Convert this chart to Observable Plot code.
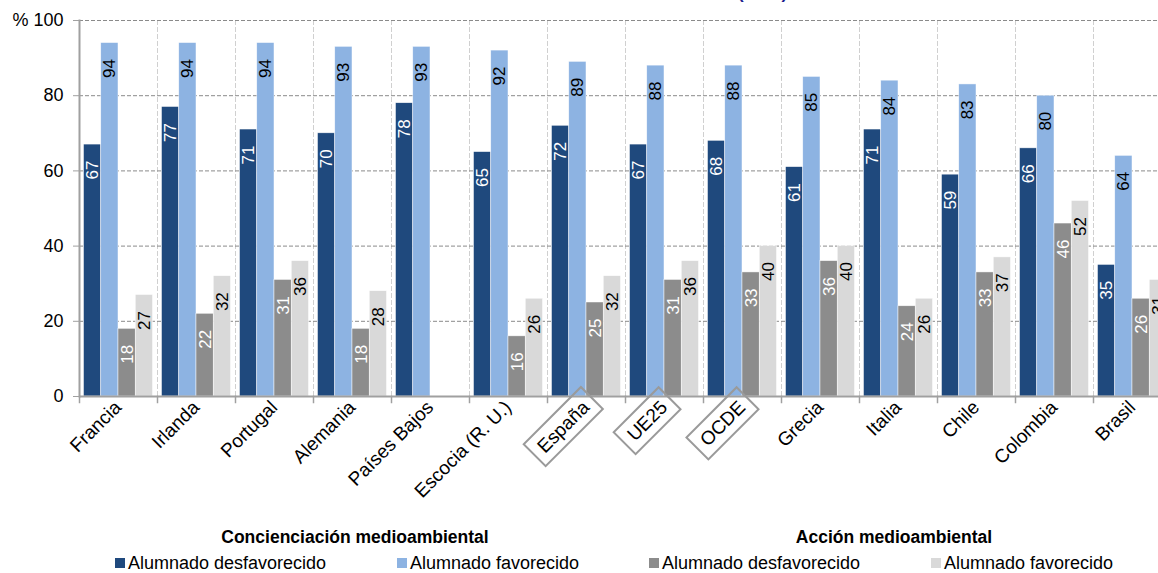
<!DOCTYPE html>
<html>
<head>
<meta charset="utf-8">
<script src="https://cdn.jsdelivr.net/npm/d3@7"></script>
<script src="https://cdn.jsdelivr.net/npm/@observablehq/plot@0.6"></script>
<style>
html, body { margin: 0; padding: 0; background: #fff; overflow: hidden; width: 1158px; height: 573px; }
body { font-family: "Liberation Sans", Arial, sans-serif; position: relative; color: #000; }
#chart { position: absolute; left: 0; top: 0; width: 1158px; }
#title { position: absolute; left: 738px; top: -15px; font-size: 17px; line-height: 17px; font-weight: bold; color: #1c1c8c; white-space: nowrap; }
.lt { position: absolute; font-weight: bold; font-size: 17.5px; line-height: 20px; transform: translateX(-50%); white-space: nowrap; }
.li { position: absolute; font-size: 18px; line-height: 20px; white-space: nowrap; display: flex; align-items: center; }
.sw { width: 10px; height: 10px; margin-right: 3px; display: inline-block; }
</style>
</head>
<body>
<div id="title">(2006)</div>
<div id="chart"></div>
<div id="legend"></div>
<script>
// ---- data ----
const countries = ["Francia", "Irlanda", "Portugal", "Alemania", "Países Bajos", "Escocia (R. U.)", "España", "UE25", "OCDE", "Grecia", "Italia", "Chile", "Colombia", "Brasil"];
const boxedCountries = ["España", "UE25", "OCDE"];
const awarenessDisadv = [67, 77, 71, 70, 78, 65, 72, 67, 68, 61, 71, 59, 66, 35];
const awarenessAdv    = [94, 94, 94, 93, 93, 92, 89, 88, 88, 85, 84, 83, 80, 64];
const actionDisadv    = [18, 22, 31, 18, null, 16, 25, 31, 33, 36, 24, 33, 46, 26];
const actionAdv       = [27, 32, 36, 28, null, 26, 32, 36, 40, 40, 26, 37, 52, 31];
const seriesKeys = ["aw_dis", "aw_adv", "ac_dis", "ac_adv"];
const seriesColors = ["#1f497d", "#8db3e2", "#8c8c8c", "#d9d9d9"];
const labelColors = ["#ffffff", "#000000", "#ffffff", "#000000"];
const legendNames = ["Alumnado desfavorecido", "Alumnado favorecido", "Alumnado desfavorecido", "Alumnado favorecido"];
const groupTitles = ["Concienciación medioambiental", "Acción medioambiental"];
const yTicks = [0, 20, 40, 60, 80, 100];

// ---- table ----
const seriesValues = [awarenessDisadv, awarenessAdv, actionDisadv, actionAdv];
const rows = [];
countries.forEach((c, i) => seriesKeys.forEach((s, j) => {
  const v = seriesValues[j][i];
  if (v != null) rows.push({country: c, series: s, value: v, labelColor: labelColors[j]});
}));

const W = 1158, H = 505, mL = 79, mR = -13, mT = 20, mB = 109;
const frameH = H - mT - mB;

const plot = Plot.plot({
  width: W, height: H,
  marginLeft: mL, marginRight: mR, marginTop: mT, marginBottom: mB,
  style: {fontFamily: "Liberation Sans, Arial, sans-serif", fontSize: "17px", color: "#000", background: "transparent", maxWidth: "none"},
  fx: {domain: countries, padding: 0, axis: null, round: false, label: null},
  x: {domain: seriesKeys, paddingInner: 0, paddingOuter: 0.26, axis: null, round: false},
  y: {domain: [0, 100], axis: null, label: null},
  color: {domain: seriesKeys, range: seriesColors},
  marks: [
    Plot.frame({anchor: "left", stroke: "#d0d0d0", strokeDasharray: "4,3"}),
    Plot.gridY(yTicks.filter(t => t > 0), {stroke: "#8a8a8a", strokeOpacity: 1, strokeDasharray: "4,2"}),
    Plot.barY(rows, {fx: "country", x: "series", y: "value", fill: "series", stroke: "#ffffff", strokeWidth: 0.6, strokeOpacity: 0.8}),
    Plot.text(rows.filter(d => d.labelColor === "#ffffff"), {fx: "country", x: "series", y: "value", text: d => String(d.value), rotate: -90, textAnchor: "end", dy: 16, fill: "#ffffff", fontSize: 17}),
    Plot.text(rows.filter(d => d.labelColor === "#000000"), {fx: "country", x: "series", y: "value", text: d => String(d.value), rotate: -90, textAnchor: "end", dy: 16, fill: "#000000", fontSize: 17}),
    Plot.ruleY([0], {stroke: "#a0a0a0", strokeWidth: 2}),
    Plot.frame({anchor: "left", stroke: "#a0a0a0", strokeWidth: 2, facetAnchor: "left"}),
    Plot.frame({anchor: "left", stroke: "#a0a0a0", strokeWidth: 1.5, insetTop: frameH, insetBottom: -6}),
    Plot.axisY({ticks: yTicks, tickSize: 6, text: null, stroke: "#a0a0a0", label: null}),
    Plot.axisY({ticks: yTicks, tickSize: 0, tickPadding: 16, tickFormat: d => d === 100 ? "% 100" : String(d), fontSize: 18, label: null}),
    Plot.text(countries, {fx: d => d, text: d => d, frameAnchor: "bottom", rotate: -45, textAnchor: "end", dy: 12, dx: 4, fontSize: 19, fill: "#000"})
  ]
});
document.getElementById("chart").append(plot);

// boxes around benchmark labels
d3.select(plot).selectAll("text")
  .filter(function () { return boxedCountries.includes(this.textContent); })
  .each(function () {
    const b = this.getBBox();
    const padX = 8, padY = 5;
    const r = document.createElementNS("http://www.w3.org/2000/svg", "rect");
    const tr = this.getAttribute("transform");
    if (tr) r.setAttribute("transform", tr);
    r.setAttribute("x", b.x - padX);
    r.setAttribute("y", b.y - padY);
    r.setAttribute("width", b.width + 2 * padX);
    r.setAttribute("height", b.height + 2 * padY);
    r.setAttribute("fill", "none");
    r.setAttribute("stroke", "#9a9a9a");
    r.setAttribute("stroke-width", "2");
    this.parentNode.insertBefore(r, this);
  });

// legend
const legend = document.getElementById("legend");
const titleCenters = [355, 894];
groupTitles.forEach((t, i) => {
  const d = document.createElement("div");
  d.className = "lt"; d.textContent = t;
  d.style.left = titleCenters[i] + "px"; d.style.top = "527px";
  legend.append(d);
});
const itemLefts = [115, 397, 649, 931];
legendNames.forEach((n, i) => {
  const d = document.createElement("div");
  d.className = "li";
  d.style.left = itemLefts[i] + "px"; d.style.top = "553px";
  const sw = document.createElement("span");
  sw.className = "sw"; sw.style.background = seriesColors[i];
  d.append(sw, document.createTextNode(n));
  legend.append(d);
});
</script>
</body>
</html>
